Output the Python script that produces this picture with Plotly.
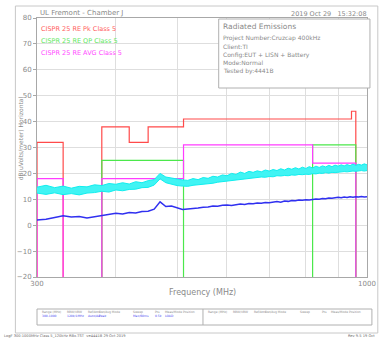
import plotly.graph_objects as go

# swept frequency points (MHz)
freq = [300, 310, 320, 330, 340, 350, 360, 370, 380, 390, 400, 410, 420, 430, 440, 450,
        460, 470, 480, 490, 500, 510, 520, 530, 540, 550, 560, 570, 580, 590, 600, 610,
        620, 630, 640, 650, 660, 670, 680, 690, 700, 710, 720, 730, 740, 750, 760, 770,
        780, 790, 800, 810, 820, 830, 840, 850, 860, 870, 880, 890, 900, 910, 920, 930,
        940, 950, 960, 970, 980, 990, 1000]

# peak trace envelope (dBuV/m)
peak_hi = [14.7, 15.4, 14.5, 15.1, 14.3, 15.0, 14.8, 15.6, 15.3, 16.1, 15.8, 16.4, 15.9, 16.8, 16.4, 17.2,
           17.6, 20.0, 18.6, 18.2, 17.6, 17.5, 17.3, 18.0, 17.6, 18.4, 18.1, 18.9, 18.6, 19.4, 19.1, 20.0,
           19.6, 20.5, 20.0, 20.8, 20.4, 21.0, 20.6, 21.3, 20.9, 21.5, 21.1, 21.8, 21.3, 22.0, 21.6, 22.2,
           21.7, 22.4, 21.9, 22.6, 22.1, 22.8, 22.3, 22.9, 22.5, 23.1, 22.6, 23.2, 22.8, 23.3, 22.9, 23.4,
           23.0, 23.6, 23.1, 23.5, 23.2, 23.7, 23.3]
peak_lo = [12.4, 11.9, 12.5, 11.8, 12.2, 11.7, 12.4, 12.6, 13.1, 12.8, 13.6, 13.3, 13.8, 13.9, 14.5, 14.6,
           15.5, 17.9, 16.4, 15.8, 15.3, 15.1, 15.0, 15.4, 15.6, 15.7, 16.1, 16.2, 16.6, 16.8, 17.0, 17.2,
           17.5, 17.7, 17.8, 18.0, 18.3, 18.2, 18.6, 18.5, 18.8, 18.7, 19.1, 19.0, 19.2, 19.1, 19.4, 19.3,
           19.6, 19.5, 19.7, 19.6, 19.9, 19.8, 20.1, 20.0, 20.3, 20.1, 20.4, 20.3, 20.5, 20.6, 20.7, 20.6,
           20.8, 20.9, 20.8, 21.0, 21.1, 20.9, 21.1]
# average trace
avg = [2.0, 2.3, 3.0, 3.6, 3.2, 3.4, 2.8, 3.3, 3.9, 4.1, 4.6, 4.3, 4.9, 4.7, 5.3, 5.4,
       6.2, 9.0, 7.2, 7.4, 6.6, 6.1, 6.3, 6.4, 6.6, 6.9, 7.0, 7.4, 7.3, 7.7, 7.8, 7.6,
       8.0, 8.2, 8.0, 8.4, 8.3, 8.6, 8.5, 8.8, 8.7, 8.9, 9.1, 8.9, 9.3, 9.2, 9.5, 9.4,
       9.7, 9.6, 9.8, 9.7, 10.0, 10.1, 10.0, 10.3, 10.2, 10.5, 10.4, 10.7, 10.8, 10.6, 10.9, 10.7,
       11.0, 10.8, 11.0, 10.9, 11.1, 10.9, 11.0]

# CISPR 25 class 5 limit bands
pk_start = [300, 380, 420, 450, 512, 945]
pk_stop = [330, 420, 450, 512, 945, 960]
pk_level = [32, 38, 32, 38, 41, 44]
qp_start = [380, 820]
qp_stop = [512, 960]
qp_level = [25, 31]
av_start = [300, 380, 512, 820]
av_stop = [330, 512, 820, 960]
av_level = [18, 18, 31, 24]

y_ticks = [80, 70, 60, 50, 40, 30, 20, 10, 0, -10, -20]
x_grid = [300, 400, 500, 600, 700, 800, 900, 1000]
x_labels = ["300", "", "", "", "", "", "", "1000"]

FLOOR = -20
GRAY = "#8a8a8a"
FONT = "DejaVu Sans"


def limit_xy(starts, stops, levels):
    xs, ys = [], []
    prev = None
    for a, b, lvl in zip(starts, stops, levels):
        if prev is not None and prev != a:
            xs += [prev, None]
            ys += [FLOOR, None]
        if prev != a:
            xs += [a]
            ys += [FLOOR]
        xs += [a, b]
        ys += [lvl, lvl]
        prev = b
    xs.append(prev)
    ys.append(FLOOR)
    return xs, ys


fig = go.Figure()

for (s, e, l), col in [((pk_start, pk_stop, pk_level), "#ff4a4a"),
                       ((qp_start, qp_stop, qp_level), "#4be84b"),
                       ((av_start, av_stop, av_level), "#ff3cff")]:
    lx, ly = limit_xy(s, e, l)
    fig.add_trace(go.Scatter(x=lx, y=ly, mode="lines", line=dict(color=col, width=1.2),
                             showlegend=False, hoverinfo="skip"))

fig.add_trace(go.Scatter(x=freq, y=peak_lo, mode="lines", line=dict(color="#10eeee", width=1),
                         showlegend=False))
fig.add_trace(go.Scatter(x=freq, y=peak_hi, mode="lines", line=dict(color="#10eeee", width=1),
                         fill="tonexty", fillcolor="#40f4f4", showlegend=False))
fig.add_trace(go.Scatter(x=freq, y=avg, mode="lines", line=dict(color="#3030f0", width=1.5),
                         showlegend=False))


def px(x):
    return (x - 37) / 336


def py(y):
    return (277 - y) / 259


ann = []


def txt(x, y, s, size=7, color=GRAY, anchor="left", angle=0):
    ann.append(dict(x=px(x), y=py(y), xref="paper", yref="paper", text=s, showarrow=False,
                    xanchor=anchor, yanchor="middle", textangle=angle,
                    font=dict(family=FONT, size=size, color=color)))


txt(38, 13, "UL Fremont - Chamber J", 7)
txt(375, 14, "2019 Oct 29&nbsp;&nbsp;&nbsp;15:32:08", 6.5, anchor="right")
txt(39, 29, "CISPR 25 RE Pk Class 5", 6.5, "#ff6060")
txt(39, 41, "CISPR 25 RE QP Class 5", 6.5, "#5ee85e")
txt(39, 53, "CISPR 25 RE AVG Class 5", 6.5, "#ff4cff")
txt(224, 26, "Radiated Emissions", 7.5)
txt(224, 38, "Project Number:Cruzcap 400kHz", 6)
txt(224, 46, "Client:TI", 6)
txt(224, 55, "Config:EUT + LISN + Battery", 6)
txt(224, 63, "Mode:Normal", 6)
txt(224, 71, "Tested by:4441B", 6)
txt(20, 138, "dB(uVolts/meter) Horizontal", 6, anchor="center", angle=-90)
txt(205, 292, "Frequency (MHz)", 8, anchor="center")

heads = ["Range (MHz)", "RBW/VBW", "Ref/Attn", "Det/Avg Mode", "Sweep", "Pts", "Meas/Mode", "Position"]
left_x = [40, 66, 87, 98, 133, 155, 165, 184]
right_x = [209, 235, 256, 267, 303, 325, 334, 353]
vals = ["300-1000", "120k/1MHz", "Auto/AA", "Peak", "Max/60ms", "0.5k", "LOAD", ""]
for h, xa, xb, v in zip(heads, left_x, right_x, vals):
    txt(xa, 311.5, h, 3)
    txt(xb, 311.5, h, 3)
    txt(xa, 315.5, v, 3, "#4a4af0")
txt(1, 336, "LogF 300-1000MHz Class 5_120kHz RBx.TST&nbsp;&nbsp;ve4441B 29 Oct 2019", 3.6, "#666")
txt(383, 336, "Rev 9.5 19 Oct", 3.6, "#666", anchor="right")

shapes = [
    dict(type="rect", xref="paper", yref="paper", x0=px(15), x1=px(384), y0=py(333), y1=py(6),
         line=dict(color="#c8c8c8", width=1), layer="below"),
    dict(type="rect", xref="paper", yref="paper", x0=px(222), x1=px(376), y0=py(88), y1=py(19),
         line=dict(color="#b0b0b0", width=1), fillcolor="white", layer="above"),
    dict(type="rect", xref="paper", yref="paper", x0=px(37), x1=px(378), y0=py(325), y1=py(309),
         line=dict(color="#b0b0b0", width=1)),
    dict(type="line", xref="paper", yref="paper", x0=px(206), x1=px(206), y0=py(325), y1=py(309),
         line=dict(color="#b0b0b0", width=1)),
]

fig.update_layout(
    width=388, height=341,
    margin=dict(l=37, r=15, t=18, b=64),
    paper_bgcolor="white", plot_bgcolor="white",
    font=dict(family=FONT, size=7, color=GRAY),
    annotations=ann, shapes=shapes,
    xaxis=dict(type="log", range=[2.4771, 3.0], tickvals=x_grid, ticktext=x_labels,
               showgrid=True, gridcolor="#dedede", gridwidth=1, ticks="", tickfont=dict(size=7, color=GRAY),
               showline=True, linecolor="#a8a8a8", mirror=True, zeroline=False),
    yaxis=dict(range=[-20, 80], tickvals=y_ticks, showgrid=True, gridcolor="#dedede", gridwidth=1,
               ticks="outside", ticklen=3, tickcolor="#a8a8a8", tickfont=dict(size=7, color=GRAY),
               showline=True, linecolor="#a8a8a8", mirror=True, zeroline=False),
)

# the page body has a default 8px margin; drop it so the figure fills the window
fig.write_html("out.html", config={"displayModeBar": False},
               post_script="document.body.style.margin='0';")
